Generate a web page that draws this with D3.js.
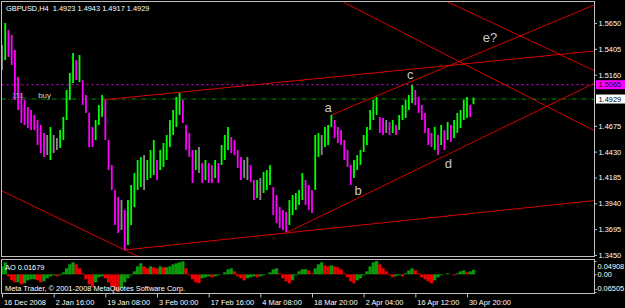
<!DOCTYPE html>
<html>
<head>
<meta charset="utf-8">
<script src="https://cdn.jsdelivr.net/npm/d3@7"></script>
<style>
  html, body { margin: 0; padding: 0; background: #000; }
  svg { display: block; }
  text { font-family: "Liberation Sans", Arial, sans-serif; }
</style>
</head>
<body>
<div id="chart"></div>
<script>
// ---- data (GBPUSD H4, one entry per ~4 bars) ----
const highs = [
  1.5441, 1.5650, 1.5584, 1.5536, 1.5394, 1.5138, 1.4986, 1.4920, 1.4853, 1.4825,
  1.4778, 1.4730, 1.4683, 1.4607, 1.4588, 1.4664, 1.4588, 1.4559, 1.4635, 1.4759,
  1.5015, 1.5176, 1.5366, 1.5299, 1.5347, 1.5109, 1.4967, 1.4797, 1.4664, 1.4730,
  1.4872, 1.4967, 1.4920, 1.4540, 1.4303, 1.4066, 1.4000, 1.3971, 1.3877, 1.3971,
  1.4114, 1.4228, 1.4351, 1.4379, 1.4398, 1.4351, 1.4446, 1.4540, 1.4351, 1.4446,
  1.4512, 1.4588, 1.4730, 1.4825, 1.4948, 1.4986, 1.4920, 1.4683, 1.4607, 1.4446,
  1.4446, 1.4474, 1.4322, 1.4351, 1.4322, 1.4303, 1.4351, 1.4322, 1.4493, 1.4588,
  1.4664, 1.4569, 1.4540, 1.4446, 1.4379, 1.4351, 1.4379, 1.4303, 1.4161, 1.4161,
  1.4180, 1.4237, 1.4256, 1.4303, 1.4095, 1.4019, 1.3905, 1.3877, 1.3858, 1.3971,
  1.4019, 1.4038, 1.4066, 1.4228, 1.4161, 1.4114, 1.4066, 1.4588, 1.4607, 1.4588,
  1.4664, 1.4683, 1.4778, 1.4730, 1.4664, 1.4635, 1.4540, 1.4446, 1.4303, 1.4351,
  1.4398, 1.4446, 1.4588, 1.4664, 1.4825, 1.4920, 1.4948, 1.4759, 1.4749, 1.4730,
  1.4711, 1.4730, 1.4683, 1.4778, 1.4872, 1.4920, 1.4967, 1.5062, 1.5015, 1.4948,
  1.4872, 1.4797, 1.4654, 1.4607, 1.4664, 1.4588, 1.4683, 1.4635, 1.4711, 1.4683,
  1.4730, 1.4797, 1.4825, 1.4920, 1.4948, 1.4872, 1.4943
];
const lows = [
  1.5204, 1.5299, 1.5328, 1.5252, 1.4920, 1.4825, 1.4702, 1.4683, 1.4654, 1.4635,
  1.4635, 1.4493, 1.4417, 1.4379, 1.4398, 1.4351, 1.4417, 1.4446, 1.4465, 1.4540,
  1.4730, 1.4920, 1.5081, 1.5109, 1.5090, 1.4872, 1.4797, 1.4474, 1.4474, 1.4540,
  1.4683, 1.4759, 1.4540, 1.4256, 1.4066, 1.3734, 1.3659, 1.3687, 1.3498, 1.3545,
  1.3734, 1.3905, 1.4066, 1.4095, 1.4066, 1.4161, 1.4180, 1.4209, 1.4161, 1.4256,
  1.4284, 1.4351, 1.4474, 1.4588, 1.4664, 1.4778, 1.4702, 1.4446, 1.4379, 1.4133,
  1.4256, 1.4228, 1.4133, 1.4161, 1.4133, 1.4133, 1.4180, 1.4133, 1.4303, 1.4351,
  1.4446, 1.4417, 1.4398, 1.4275, 1.4161, 1.4180, 1.4161, 1.4142, 1.3971, 1.3990,
  1.3971, 1.4038, 1.4066, 1.4114, 1.3829, 1.3753, 1.3706, 1.3687, 1.3668, 1.3734,
  1.3829, 1.3877, 1.3924, 1.3971, 1.3924, 1.3877, 1.3848, 1.4066, 1.4379, 1.4398,
  1.4474, 1.4493, 1.4664, 1.4559, 1.4512, 1.4493, 1.4351, 1.4284, 1.4114, 1.4180,
  1.4256, 1.4303, 1.4427, 1.4493, 1.4635, 1.4730, 1.4778, 1.4607, 1.4588, 1.4607,
  1.4588, 1.4607, 1.4588, 1.4635, 1.4730, 1.4749, 1.4825, 1.4891, 1.4872, 1.4797,
  1.4730, 1.4607, 1.4493, 1.4474, 1.4446, 1.4398, 1.4493, 1.4446, 1.4540, 1.4522,
  1.4559, 1.4607, 1.4654, 1.4730, 1.4749, 1.4759, 1.4880
];
const aoValues = [
   0.0294,  0.0442, -0.0074, -0.0221, -0.0294, -0.0294, -0.0368, -0.0331, -0.0221, -0.0184,
  -0.0184, -0.0221, -0.0294, -0.0258, -0.0147, -0.0074, -0.0037, -0.0074, -0.0037,  0.0074,
   0.0221,  0.0368,  0.0442,  0.0368,  0.0221,  0.0037, -0.0184, -0.0368, -0.0478, -0.0294,
  -0.0110, -0.0074, -0.0147, -0.0294, -0.0442, -0.0589, -0.0650, -0.0515, -0.0294, -0.0147,
  -0.0037,  0.0110,  0.0294,  0.0405,  0.0294,  0.0221,  0.0294,  0.0258,  0.0221,  0.0294,
   0.0258,  0.0258,  0.0294,  0.0368,  0.0405,  0.0442,  0.0478,  0.0221, -0.0037, -0.0184,
  -0.0294, -0.0331, -0.0147, -0.0110, -0.0074, -0.0110, -0.0074, -0.0037,  0.0005,  0.0074,
   0.0184,  0.0221,  0.0110, -0.0074, -0.0147, -0.0221, -0.0147, -0.0110, -0.0074, -0.0110,
  -0.0074, -0.0037,  0.0004,  0.0074,  0.0184,  0.0221,  0.0037, -0.0147, -0.0258, -0.0331,
  -0.0221, -0.0037,  0.0110,  0.0184,  0.0190,  0.0147,  0.0037,  0.0221,  0.0368,  0.0442,
   0.0331,  0.0294,  0.0331,  0.0294,  0.0258,  0.0184,  0.0037, -0.0110, -0.0258, -0.0331,
  -0.0221, -0.0147, -0.0037,  0.0110,  0.0294,  0.0442,  0.0491,  0.0368,  0.0221,  0.0110,
  -0.0037, -0.0110, -0.0074, -0.0037, -0.0074,  0.0037,  0.0147,  0.0221,  0.0147,  0.0037,
  -0.0110, -0.0184, -0.0258, -0.0331, -0.0221, -0.0110, -0.0037, -0.0005,  0.0037,  0.0008,
  -0.0037,  0.0037,  0.0110,  0.0147,  0.0074,  0.0110,  0.0168
];

const priceTicks = [1.5650, 1.5405, 1.5160, 1.4675, 1.4430, 1.4185, 1.3940, 1.3695, 1.3450];
const timeLabels = ["16 Dec 2008", "2 Jan 16:00", "19 Jan 08:00", "3 Feb 00:00", "17 Feb 16:00",
                    "4 Mar 08:00", "18 Mar 20:00", "2 Apr 04:00", "16 Apr 12:00", "30 Apr 20:00"];
const timeTickIdx = [0, 16, 32, 48, 64, 80, 96, 112, 128, 144];
const aoTicks = [0.04908, 0.00, -0.06505];
const aoTickLabels = ["0.04908", "0.00", "-0.06505"];

const symbol = "GBPUSD,H4";
const lastOhlc = [1.4923, 1.4943, 1.4917, 1.4929];
const aoLast = 0.01679;
const bidLevel = 1.4929;
const orderLevel = 1.5065;

// trend lines: start point and a second point (bar index, price), drawn as rays
const trendFrom = [[0, 1.4057], [38, 1.3498], [88, 1.3659], [31, 1.4920], [102, 1.4778], [106, 1.5843], [138, 1.5851]];
const trendTo   = [[38, 1.3498], [88, 1.3659], [146, 1.4522], [92, 1.5106], [146, 1.5342], [146, 1.5216], [146, 1.5736]];

// wave labels
const waveText  = ["a", "b", "c", "d", "e?"];
const waveIdx   = [101, 110.3, 126.4, 138.2, 151.1];
const wavePrice = [1.4844, 1.4066, 1.5157, 1.4322, 1.5517];

const W = 625, H = 308;
const frame = "#c0c0c0";
const fontSize = "7.4px";

const svg = d3.select("#chart").append("svg")
  .attr("width", W).attr("height", H)
  .style("background", "#000");

const main = { left: 1.5, right: 594.5, top: 1.5, bottom: 256.5 };
const aoBox = { left: 1.5, right: 594.5, top: 259.5, bottom: 293.5 };

// scales
const x = d3.scaleLinear().domain([0, 144]).range([2, 467]);
const y = d3.scaleLinear().domain([1.3450, 1.5650]).range([255, 23]);
const yAo = d3.scaleLinear().domain([-0.06505, 0.04908]).range([292, 261]);

const defs = svg.append("defs");
defs.append("clipPath").attr("id", "clipMain").append("rect")
  .attr("x", main.left).attr("y", main.top)
  .attr("width", main.right - main.left).attr("height", main.bottom - main.top);
defs.append("clipPath").attr("id", "clipAo").append("rect")
  .attr("x", aoBox.left).attr("y", aoBox.top)
  .attr("width", aoBox.right - aoBox.left).attr("height", aoBox.bottom - aoBox.top);

const gMain = svg.append("g").attr("clip-path", "url(#clipMain)");

// 1) horizontal levels
gMain.append("line")
  .attr("x1", main.left).attr("x2", main.right)
  .attr("y1", y(orderLevel)).attr("y2", y(orderLevel))
  .attr("stroke", "#e000e0").attr("stroke-width", 1)
  .attr("stroke-dasharray", "2,3");
gMain.append("line")
  .attr("x1", main.left).attr("x2", main.right)
  .attr("y1", y(bidLevel)).attr("y2", y(bidLevel))
  .attr("stroke", "#0a8a0a").attr("stroke-width", 1)
  .attr("stroke-dasharray", "5,2,1,2");

// 2) trend lines (rays to the right)
const rayEnd = 200;
trendFrom.forEach((p, k) => {
  const q = trendTo[k];
  const slope = (q[1] - p[1]) / (q[0] - p[0]);
  gMain.append("line")
    .attr("x1", x(p[0])).attr("y1", y(p[1]))
    .attr("x2", x(rayEnd)).attr("y2", y(p[1] + slope * (rayEnd - p[0])))
    .attr("stroke", "#d40000").attr("stroke-width", 1);
});

// 3) price bars
const bars = highs.map((h, i) => {
  const mid = (h + lows[i]) / 2;
  const prev = i ? (highs[i - 1] + lows[i - 1]) / 2 : mid;
  return { i, h, l: lows[i], dm: mid - prev };
});
gMain.selectAll("rect.bar")
  .data(bars)
  .enter().append("rect")
    .attr("class", "bar")
    .attr("x", d => x(d.i) - 0.9)
    .attr("width", 1.8)
    .attr("y", d => y(d.h))
    .attr("height", d => Math.max(1, y(d.l) - y(d.h)))
    .attr("fill", d => Math.abs(d.dm) < 0.0008 ? "#8c8c8c" : (d.dm > 0 ? "#00ff00" : "#ff00ff"));

// 4) wave labels and notes
svg.selectAll("text.wave")
  .data(waveText)
  .enter().append("text")
    .attr("class", "wave")
    .attr("x", (d, i) => x(waveIdx[i]))
    .attr("y", (d, i) => y(wavePrice[i]))
    .attr("text-anchor", "middle")
    .attr("dominant-baseline", "central")
    .attr("fill", "#c8c8c8")
    .style("font-size", "13px")
    .text(d => d);

svg.append("text")
  .attr("x", x(11.2)).attr("y", y(1.4967)).attr("dy", "0.35em")
  .attr("fill", "#d0d0d0").style("font-size", "8px").text("buy");
svg.append("text")
  .attr("x", x(3.1)).attr("y", y(1.4958)).attr("dy", "0.35em")
  .attr("fill", "#a0a0a0").style("font-size", "7px").text("151.");

// 5) AO histogram
const gAo = svg.append("g").attr("clip-path", "url(#clipAo)");
gAo.selectAll("rect.ao")
  .data(aoValues)
  .enter().append("rect")
    .attr("class", "ao")
    .attr("x", (d, i) => x(i) - 1.62)
    .attr("width", 3.24)
    .attr("y", d => Math.min(yAo(d), yAo(0)))
    .attr("height", d => Math.abs(yAo(d) - yAo(0)))
    .attr("fill", (d, i) => (i === 0 || d >= aoValues[i - 1]) ? "#0a9a0a" : "#f00000");

// 6) frames
[main, aoBox].forEach(b => {
  svg.append("rect")
    .attr("x", b.left).attr("y", b.top)
    .attr("width", b.right - b.left).attr("height", b.bottom - b.top)
    .attr("fill", "none").attr("stroke", frame).attr("stroke-width", 1);
});

// 7) price axis
const yAxis = d3.axisRight(y).tickValues(priceTicks)
  .tickFormat(d3.format(".4f")).tickSize(2.5).tickPadding(1.5);
const gy = svg.append("g").attr("transform", `translate(${main.right},0)`).call(yAxis);
gy.select(".domain").remove();
gy.selectAll("line").attr("stroke", frame);
gy.selectAll("text").attr("fill", "#fff").style("font-size", fontSize)
  .style("font-family", "'Liberation Sans', Arial, sans-serif");

// price boxes
[[orderLevel, "#ff00ff"], [bidLevel, "#ffffff"]].forEach(([lvl, col]) => {
  svg.append("rect")
    .attr("x", main.right + 1.5).attr("y", y(lvl) - 4.5)
    .attr("width", W - main.right).attr("height", 9)
    .attr("fill", col);
  svg.append("text")
    .attr("x", main.right + 4).attr("y", y(lvl)).attr("dy", "0.35em")
    .attr("fill", "#000").style("font-size", fontSize)
    .text(d3.format(".4f")(lvl));
});

// 8) AO axis
const aoAxis = d3.axisRight(yAo).tickValues(aoTicks)
  .tickFormat((d, i) => aoTickLabels[i]).tickSize(2).tickPadding(1);
const ga = svg.append("g").attr("transform", `translate(${aoBox.right},0)`).call(aoAxis);
ga.select(".domain").remove();
ga.selectAll("line").attr("stroke", frame);
ga.selectAll("text").attr("fill", "#fff").style("font-size", fontSize)
  .style("font-family", "'Liberation Sans', Arial, sans-serif")
  .attr("dy", (d, i) => i === 0 ? "1.0em" : i === 2 ? "-0.2em" : "0.25em")
  .attr("x", (d, i) => i === 2 ? 0.5 : 3);

// 9) time axis
const xAxis = d3.axisBottom(x).tickValues(timeTickIdx)
  .tickFormat((d, i) => timeLabels[i]).tickSize(4).tickPadding(2.5);
const gx = svg.append("g").attr("transform", `translate(0,${aoBox.bottom})`).call(xAxis);
gx.select(".domain").remove();
gx.selectAll("line").attr("stroke", frame);
gx.selectAll("text").attr("fill", "#fff").style("font-size", fontSize)
  .style("font-family", "'Liberation Sans', Arial, sans-serif")
  .attr("text-anchor", "start").attr("x", 1.5);

// 10) header texts
svg.append("text")
  .attr("x", 6).attr("y", 11)
  .attr("fill", "#fff").style("font-size", fontSize).style("white-space", "pre")
  .text(symbol + "  " + lastOhlc.map(d3.format(".4f")).join(" "));
svg.append("text")
  .attr("x", 5).attr("y", 270)
  .attr("fill", "#fff").style("font-size", fontSize)
  .text("AO " + d3.format(".5f")(aoLast));
svg.append("text")
  .attr("x", 5).attr("y", 291)
  .attr("fill", "#fff").style("font-size", fontSize)
  .text("Meta Trader, © 2001-2008 MetaQuotes Software Corp.");
</script>
</body>
</html>
